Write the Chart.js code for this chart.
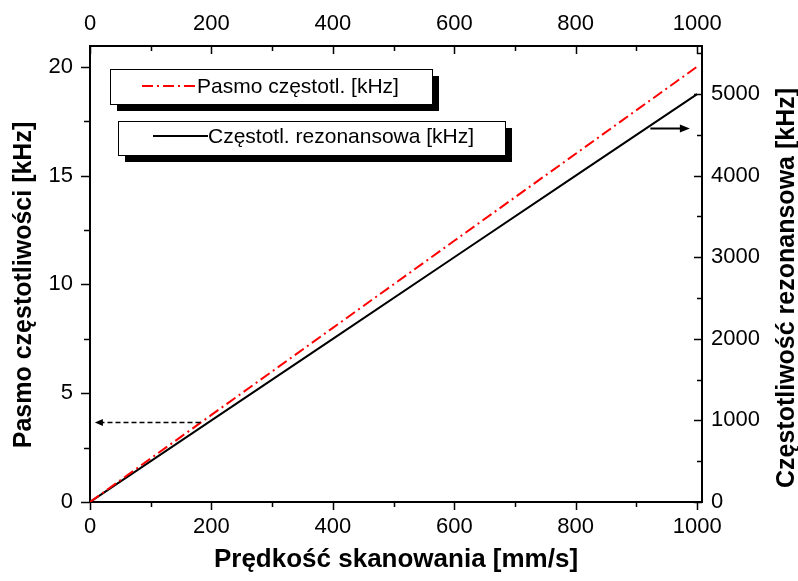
<!DOCTYPE html>
<html>
<head>
<meta charset="utf-8">
<script src="https://cdn.jsdelivr.net/npm/chart.js@4.4.0/dist/chart.umd.min.js"></script>
<style>
  html, body { margin: 0; padding: 0; background: #fff; }
  #wykres { display: block; }
</style>
</head>
<body>
<canvas id="wykres" width="798" height="581"></canvas>
<script>
// predkosc skanowania [mm/s]
var predkosc = [0, 200, 400, 600, 800, 1000];
// pasmo czestotliwosci [kHz] (lewa os)
var pasmo = [0, 4, 8, 12, 16, 20];
// czestotliwosc rezonansowa [kHz] (prawa os)
var rezonans = [0, 1000, 2000, 3000, 4000, 5000];

// etykiety osi
var tickiX = [0, 200, 400, 600, 800, 1000];
var tickiLewa = [0, 5, 10, 15, 20];
var tickiPrawa = [0, 1000, 2000, 3000, 4000, 5000];

// strzalki do osi: [x poczatek, x koniec, y]
var strzalkaLewa = [182, 8, 3.68];
var strzalkaPrawa = [923, 988, 4580];

var FONT = "'Liberation Sans', Arial, Helvetica, sans-serif";

function kreski(ctx, skala, wartosci, dl) {
  // dl > 0 na zewnatrz wykresu, < 0 do srodka
  var a = skala.chart.chartArea;
  ctx.beginPath();
  wartosci.forEach(function (v) {
    var p = Math.round(skala.getPixelForValue(v)) + 0.5;
    if (skala.position === 'bottom') { ctx.moveTo(p, a.bottom); ctx.lineTo(p, a.bottom + dl); }
    if (skala.position === 'top') { ctx.moveTo(p, a.top); ctx.lineTo(p, a.top - dl); }
    if (skala.position === 'left') { ctx.moveTo(a.left, p); ctx.lineTo(a.left - dl, p); }
    if (skala.position === 'right') { ctx.moveTo(a.right, p); ctx.lineTo(a.right + dl, p); }
  });
  ctx.stroke();
}

function posrednie(ticki, max) {
  var krok = ticki[1] - ticki[0];
  return ticki.map(function (t) { return t + krok / 2; }).filter(function (v) { return v <= max; });
}

function grot(ctx, x, y, kier, dl, pol) {
  ctx.beginPath();
  ctx.moveTo(x, y);
  ctx.lineTo(x - kier * dl, y - pol);
  ctx.lineTo(x - kier * dl, y + pol);
  ctx.closePath();
  ctx.fill();
}

function ramka(ctx, x, y, w, h, ds, l1, l2, ly) {
  ctx.fillStyle = '#000';
  ctx.fillRect(x + 7, y + 7, w, h);
  ctx.fillStyle = '#fff';
  ctx.fillRect(x, y, w, h);
  ctx.strokeStyle = '#000';
  ctx.lineWidth = 1;
  ctx.strokeRect(x + 0.5, y + 0.5, w, h);
  ctx.save();
  ctx.strokeStyle = ds.borderColor;
  ctx.lineWidth = ds.borderWidth;
  ctx.setLineDash(ds.borderDash || []);
  ctx.beginPath();
  ctx.moveTo(l1, ly);
  ctx.lineTo(l2, ly);
  ctx.stroke();
  ctx.restore();
  ctx.fillStyle = '#000';
  ctx.font = '21px ' + FONT;
  ctx.textAlign = 'left';
  ctx.textBaseline = 'middle';
  ctx.fillText(ds.label, l2, ly + 1);
}

function tytulPionowy(ctx, tekst, x, y) {
  ctx.save();
  ctx.translate(x, y);
  ctx.rotate(-Math.PI / 2);
  ctx.font = 'bold 25px ' + FONT;
  ctx.fillStyle = '#000';
  ctx.textAlign = 'center';
  ctx.textBaseline = 'alphabetic';
  ctx.fillText(tekst, 0, 0);
  ctx.restore();
}

var dodatki = {
  id: 'dodatki',
  afterDatasetsDraw: function (chart) {
    var ctx = chart.ctx;
    var s = chart.scales;
    ctx.save();
    ctx.strokeStyle = '#000';
    ctx.fillStyle = '#000';

    // kreski podzialki: glowne i posrednie
    ctx.lineWidth = 1.5;
    kreski(ctx, s.x, tickiX, 8);
    kreski(ctx, s.x, posrednie(tickiX, s.x.max), 5);
    kreski(ctx, s.x2, tickiX, -8);
    kreski(ctx, s.x2, posrednie(tickiX, s.x2.max), -5);
    kreski(ctx, s.y, tickiLewa, 9);
    kreski(ctx, s.y, posrednie(tickiLewa, s.y.max), 6);
    kreski(ctx, s.y2, tickiPrawa, -8);
    kreski(ctx, s.y2, posrednie(tickiPrawa, s.y2.max), -5);

    // strzalka na lewa os (przerywana)
    var ay = Math.round(s.y.getPixelForValue(strzalkaLewa[2])) + 0.5;
    var ax1 = s.x.getPixelForValue(strzalkaLewa[0]);
    var ax2 = s.x.getPixelForValue(strzalkaLewa[1]);
    ctx.lineWidth = 1.3;
    ctx.setLineDash([5, 3]);
    ctx.beginPath();
    ctx.moveTo(ax1, ay);
    ctx.lineTo(ax2 + 5, ay);
    ctx.stroke();
    ctx.setLineDash([]);
    grot(ctx, ax2, ay, -1, 8, 3.5);

    // strzalka na prawa os
    var by = s.y2.getPixelForValue(strzalkaPrawa[2]);
    var bx1 = s.x.getPixelForValue(strzalkaPrawa[0]);
    var bx2 = s.x.getPixelForValue(strzalkaPrawa[1]);
    ctx.lineWidth = 2;
    ctx.beginPath();
    ctx.moveTo(bx1, by);
    ctx.lineTo(bx2 - 6, by);
    ctx.stroke();
    grot(ctx, bx2, by, 1, 10, 4);

    // legenda w dwoch ramkach z cieniem
    var ds = chart.data.datasets;
    ramka(ctx, 110, 69, 322, 35, ds[0], 142, 197, 86);
    ramka(ctx, 118, 121, 387, 34, ds[1], 153, 208, 136);

    // tytuly osi pionowych
    tytulPionowy(ctx, 'Pasmo częstotliwości [kHz]', 31, 285);
    tytulPionowy(ctx, 'Częstotliwość rezonansowa [kHz]', 794, 288);
    ctx.restore();
  }
};

function stalyRozmiar(w, h) {
  return function (skala) {
    if (w) skala.width = w;
    if (h) skala.height = h;
  };
}

function ustawTicki(lista) {
  return function (skala) {
    skala.ticks = lista.map(function (v) { return { value: v }; });
  };
}

var tickFont = { family: FONT, size: 22 };
var ramkaOsi = { display: true, color: '#000', width: 2 };
var bezSiatki = { display: false, drawTicks: false };

new Chart(document.getElementById('wykres'), {
  type: 'line',
  data: {
    datasets: [
      {
        label: 'Pasmo częstotl. [kHz]',
        data: predkosc.map(function (v, i) { return { x: v, y: pasmo[i] }; }),
        borderColor: '#ff0000',
        borderWidth: 2,
        borderDash: [11, 4, 2, 4],
        pointRadius: 0,
        xAxisID: 'x',
        yAxisID: 'y'
      },
      {
        label: 'Częstotl. rezonansowa [kHz]',
        data: predkosc.map(function (v, i) { return { x: v, y: rezonans[i] }; }),
        borderColor: '#000000',
        borderWidth: 2,
        pointRadius: 0,
        xAxisID: 'x',
        yAxisID: 'y2'
      }
    ]
  },
  options: {
    responsive: false,
    animation: false,
    devicePixelRatio: 1,
    layout: { padding: 0 },
    plugins: { legend: { display: false }, tooltip: { enabled: false } },
    scales: {
      x: {
        type: 'linear', position: 'bottom', min: 0, max: 1008,
        grid: bezSiatki, border: ramkaOsi,
        afterBuildTicks: ustawTicki(tickiX),
        afterFit: stalyRozmiar(0, 79),
        ticks: { color: '#000', font: tickFont, padding: 12, maxRotation: 0, autoSkip: false,
          callback: function (v) { return String(v); } },
        title: { display: true, text: 'Prędkość skanowania [mm/s]', color: '#000',
          font: { family: FONT, size: 26, weight: 'bold' }, padding: { top: 0, bottom: 6 } }
      },
      x2: {
        type: 'linear', position: 'top', min: 0, max: 1008,
        grid: bezSiatki, border: ramkaOsi,
        afterBuildTicks: ustawTicki(tickiX),
        afterFit: stalyRozmiar(0, 46),
        ticks: { color: '#000', font: tickFont, padding: 9, maxRotation: 0, autoSkip: false,
          callback: function (v) { return String(v); } }
      },
      y: {
        type: 'linear', position: 'left', min: 0, max: 20.95,
        grid: bezSiatki, border: ramkaOsi,
        afterBuildTicks: ustawTicki(tickiLewa),
        afterFit: stalyRozmiar(90, 0),
        ticks: { color: '#000', font: tickFont, padding: 17, autoSkip: false,
          callback: function (v) { return String(v); } }
      },
      y2: {
        type: 'linear', position: 'right', min: 0, max: 5590,
        grid: bezSiatki, border: ramkaOsi,
        afterBuildTicks: ustawTicki(tickiPrawa),
        afterFit: stalyRozmiar(96, 0),
        ticks: { color: '#000', font: tickFont, padding: 9, autoSkip: false,
          callback: function (v) { return String(v); } }
      }
    }
  },
  plugins: [dodatki]
});
</script>
</body>
</html>
